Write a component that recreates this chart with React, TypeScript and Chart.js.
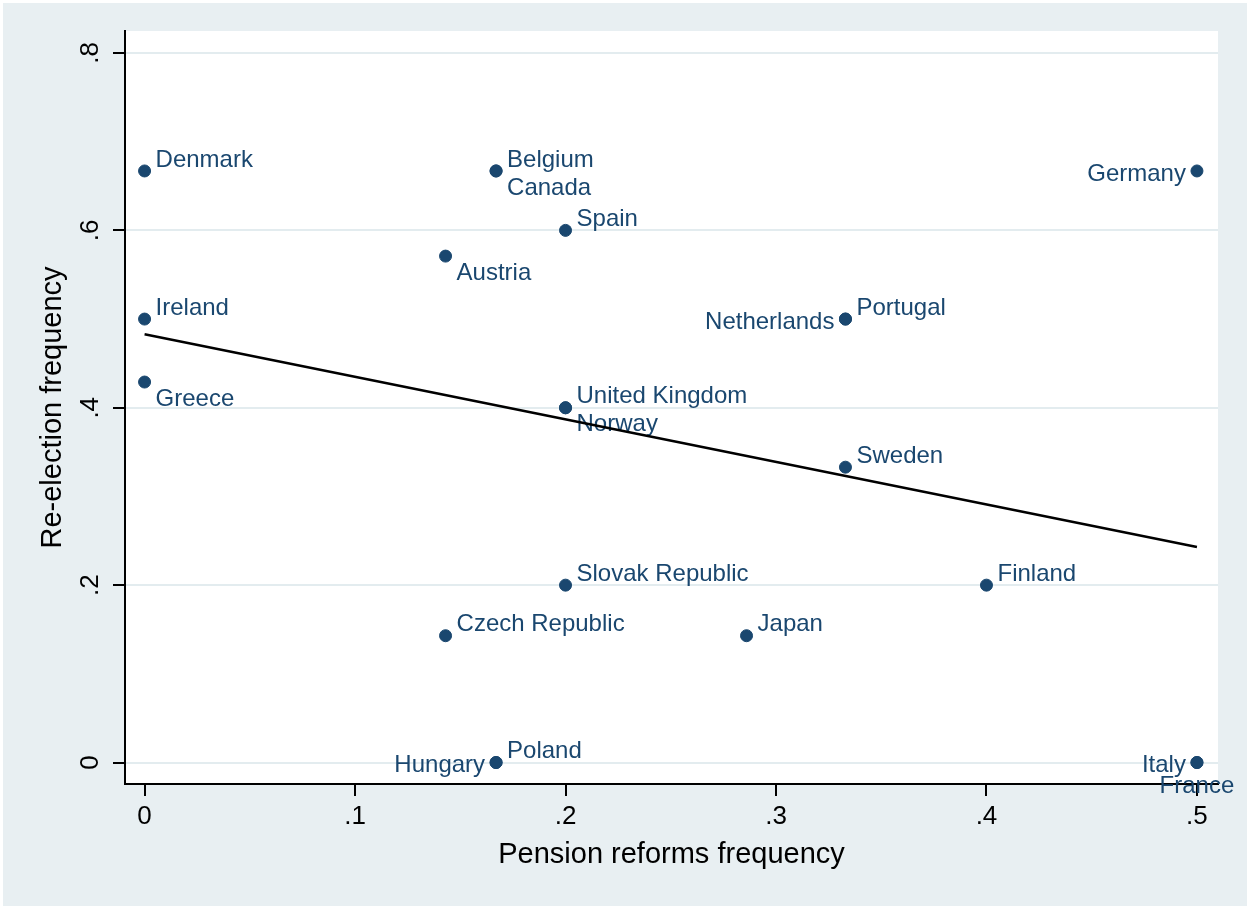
import React, { useEffect, useRef } from 'react';
import { Chart, registerables } from 'chart.js';

Chart.register(...registerables);

// ---- Data ----
const countries = [
  'Denmark', 'Belgium', 'Canada', 'Spain', 'Austria', 'Germany', 'Ireland', 'Greece',
  'Portugal', 'Netherlands', 'United Kingdom', 'Norway', 'Sweden', 'Slovak Republic',
  'Finland', 'Czech Republic', 'Japan', 'Poland', 'Hungary', 'Italy', 'France',
];
const pensionReforms = [
  0, 0.167, 0.167, 0.2, 0.143, 0.5, 0, 0,
  0.333, 0.333, 0.2, 0.2, 0.333, 0.2,
  0.4, 0.143, 0.286, 0.167, 0.167, 0.5, 0.5,
];
const reelection = [
  0.667, 0.667, 0.667, 0.6, 0.571, 0.667, 0.5, 0.429,
  0.5, 0.5, 0.4, 0.4, 0.333, 0.2,
  0.2, 0.143, 0.143, 0, 0, 0, 0,
];
// Stata-style clock positions for marker labels (3 = right, 4 = lower right, 9 = left, 6 = below)
const labelPositions = [3, 3, 4, 3, 4, 9, 3, 4, 3, 9, 3, 4, 3, 3, 3, 3, 3, 3, 9, 9, 6];

const fitX = [0, 0.5];
const fitY = [0.483, 0.243];

const xTickValues = [0, 0.1, 0.2, 0.3, 0.4, 0.5];
const xTickLabels = ['0', '.1', '.2', '.3', '.4', '.5'];
const yTickValues = [0, 0.2, 0.4, 0.6, 0.8];
const yTickLabels = ['0', '.2', '.4', '.6', '.8'];

const xTitle = 'Pension reforms frequency';
const yTitle = 'Re-election frequency';

// ---- Styles ----
const NAVY = '#1a476f';
const OUTER_BG = '#e8eff2';
const GRID = '#e3ecef';
const FONT = '"Liberation Sans", Arial, Helvetica, sans-serif';

const backgroundPlugin = {
  id: 'stataBackground',
  beforeDraw(chart: any) {
    const { ctx, width, height, chartArea } = chart;
    ctx.save();
    ctx.fillStyle = '#ffffff';
    ctx.fillRect(0, 0, width, height);
    ctx.fillStyle = OUTER_BG;
    ctx.fillRect(3, 3, width - 6, height - 6);
    ctx.fillStyle = '#ffffff';
    ctx.fillRect(chartArea.left, chartArea.top, chartArea.right - chartArea.left, chartArea.bottom - chartArea.top);
    ctx.restore();
  },
};

const labelPlugin = {
  id: 'markerLabels',
  beforeDatasetsDraw(chart: any) {
    const meta = chart.getDatasetMeta(0);
    const ctx = chart.ctx;
    ctx.save();
    ctx.font = `24px ${FONT}`;
    ctx.fillStyle = NAVY;
    ctx.textBaseline = 'middle';
    meta.data.forEach((pt: any, i: number) => {
      const { x, y } = pt.getProps(['x', 'y'], true);
      const pos = labelPositions[i];
      let tx = x + 11;
      let ty = y - 11;
      let align: CanvasTextAlign = 'left';
      if (pos === 4) {
        tx = x + 11;
        ty = y + 17;
      } else if (pos === 9) {
        tx = x - 11;
        ty = y + 3;
        align = 'right';
      } else if (pos === 6) {
        tx = x;
        ty = y + 24;
        align = 'center';
      }
      ctx.textAlign = align;
      ctx.fillText(countries[i], tx, ty);
    });
    ctx.restore();
  },
};

export default function App() {
  const canvasRef = useRef<HTMLCanvasElement | null>(null);

  useEffect(() => {
    document.body.style.margin = '0';
    const canvas = canvasRef.current;
    if (!canvas) return;

    const scatterData = pensionReforms.map((v, i) => ({ x: v, y: reelection[i] }));
    const fitData = fitX.map((v, i) => ({ x: v, y: fitY[i] }));

    const chart = new Chart(canvas, {
      type: 'scatter',
      data: {
        datasets: [
          {
            label: 'Countries',
            data: scatterData,
            backgroundColor: NAVY,
            borderColor: NAVY,
            borderWidth: 1,
            pointRadius: 6,
            pointHoverRadius: 6,
            order: 2,
          },
          {
            label: 'Fitted values',
            type: 'line',
            data: fitData,
            borderColor: '#000000',
            borderWidth: 2.5,
            pointRadius: 0,
            fill: false,
            order: 1,
          } as any,
        ],
      },
      options: {
        responsive: false,
        animation: false,
        events: [],
        layout: { padding: { top: 31, right: 32, left: 0, bottom: 0 } },
        plugins: {
          legend: { display: false },
          tooltip: { enabled: false },
          title: { display: false },
        },
        scales: {
          x: {
            type: 'linear',
            min: -0.0093,
            max: 0.51,
            afterFit(scale: any) {
              scale.height = 125;
            },
            afterBuildTicks(scale: any) {
              scale.ticks = xTickValues.map((v) => ({ value: v }));
            },
            grid: {
              drawOnChartArea: false,
              drawTicks: true,
              tickLength: 12,
              tickColor: '#000000',
              lineWidth: 2,
            },
            border: { display: true, color: '#000000', width: 2 },
            ticks: {
              autoSkip: false,
              maxRotation: 0,
              minRotation: 0,
              padding: 5,
              color: '#000000',
              font: { family: FONT, size: 26 },
              callback: (_v: any, i: number) => xTickLabels[i],
            },
            title: {
              display: true,
              text: xTitle,
              color: '#000000',
              font: { family: FONT, size: 29 },
              padding: { top: 0, bottom: 37 },
            },
          },
          y: {
            type: 'linear',
            min: -0.0242,
            max: 0.8248,
            afterFit(scale: any) {
              scale.width = 125;
            },
            afterBuildTicks(scale: any) {
              scale.ticks = yTickValues.map((v) => ({ value: v }));
            },
            grid: {
              drawOnChartArea: true,
              drawTicks: true,
              tickLength: 12,
              color: GRID,
              tickColor: '#000000',
              lineWidth: 2,
            },
            border: { display: true, color: '#000000', width: 2 },
            ticks: {
              autoSkip: false,
              minRotation: 90,
              maxRotation: 90,
              crossAlign: 'center',
              padding: 11,
              color: '#000000',
              font: { family: FONT, size: 26 },
              callback: (_v: any, i: number) => yTickLabels[i],
            },
            title: {
              display: true,
              text: yTitle,
              color: '#000000',
              font: { family: FONT, size: 29 },
              padding: { top: 36, bottom: 0 },
            },
          },
        },
      },
      plugins: [backgroundPlugin, labelPlugin],
    });

    return () => {
      chart.destroy();
    };
  }, []);

  return (
    <div style={{ width: 1250, height: 909 }}>
      <canvas ref={canvasRef} width={1250} height={909} style={{ display: 'block' }} />
    </div>
  );
}
